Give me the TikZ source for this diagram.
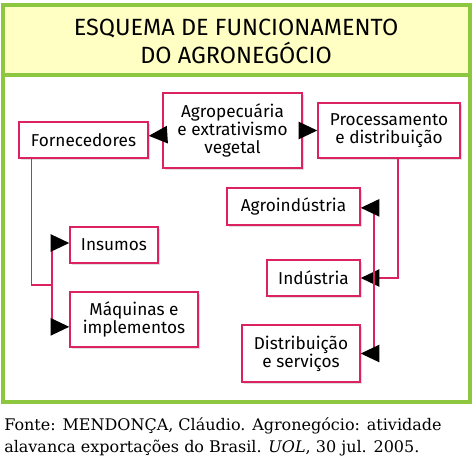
\documentclass[tikz,border=0pt]{standalone}
\usepackage{fontspec}
\setmainfont{Fira Sans}
\newfontfamily\rodape{DejaVu Serif}
\usepackage{xcolor}
\usetikzlibrary{arrows.meta,positioning,shadows}
\definecolor{moldura}{HTML}{8DC63F}
\definecolor{faixa}{HTML}{FFFFC4}
\definecolor{rosa}{HTML}{DC2260}

\begin{document}
\begin{tikzpicture}[
  x=0.75pt,y=-0.75pt,
  box/.style={draw=rosa,line width=1.1pt,fill=white,align=center,inner sep=0pt,
    font=\fontsize{12.9}{13.4}\selectfont,
    drop shadow={shadow xshift=1.2pt,shadow yshift=-1.2pt,opacity=0.25}},
  link/.style={draw=rosa,line width=1.1pt},
  arr/.style={link,-{Triangle[length=14pt,width=13pt,color=black]}}
]
\useasboundingbox (0,0) rectangle (474,458);
\fill[faixa] (3,5) rectangle (470,75);
\draw[moldura,line width=2.4pt] (3,5) rectangle (470,402);
\draw[moldura,line width=2.4pt] (3,75) -- (470,75);
\node[align=center,font=\fontsize{17.6}{21}\selectfont] (titulo) at (236,41)
  {ESQUEMA DE FUNCIONAMENTO\\DO AGRONEGÓCIO};
\node[box,minimum width=104.25pt,minimum height=56.25pt] (agro) at (232.5,130.5)
  {Agropecuária\\e extrativismo\\vegetal};
\node[box,minimum width=96.75pt,minimum height=27pt] (forn) at (83.5,140) {Fornecedores};
\node[box,minimum width=106.5pt,minimum height=41.25pt] (proc) at (389,130.5)
  {Processamento\\e distribuição};
\node[box,minimum width=99.75pt,minimum height=27.75pt] (agroind) at (293.5,206.5) {Agroindústria};
\node[box,minimum width=69.75pt,minimum height=27pt] (ind) at (313.5,278) {Indústria};
\node[box,minimum width=88.5pt,minimum height=42.75pt] (dist) at (301,353.5)
  {Distribuição\\e serviços};
\node[box,minimum width=66pt,minimum height=27pt] (ins) at (114,245) {Insumos};
\node[box,minimum width=96pt,minimum height=41.25pt] (maq) at (134,319.5)
  {Máquinas e\\implementos};
\coordinate (jl) at (52,285);
\coordinate (jr) at (374,278);
\draw[arr] (agro) -- (forn);
\draw[arr] (agro) -- (proc);
\draw[link] ([xshift=9.75pt]forn.south west) |- (jl);
\draw[arr] (jl) |- ([yshift=1.5pt]ins.west);
\draw[arr] (jl) |- ([yshift=-5.5pt]maq.west);
\draw[arr] ([xshift=6.75pt]proc.south) |- (ind.east);
\draw[arr] (jr) |- ([yshift=-1pt]agroind.east);
\draw[arr] (jr) |- (dist.east);
\node[anchor=base west,align=left,inner sep=0pt,font=\rodape\fontsize{12}{16.5}\selectfont] (fonte) at (4,452)
  {Fonte: MENDONÇA, Cláudio. Agronegócio: atividade\\alavanca exportações do Brasil. \textit{UOL}, 30 jul. 2005.};
\end{tikzpicture}
\end{document}
